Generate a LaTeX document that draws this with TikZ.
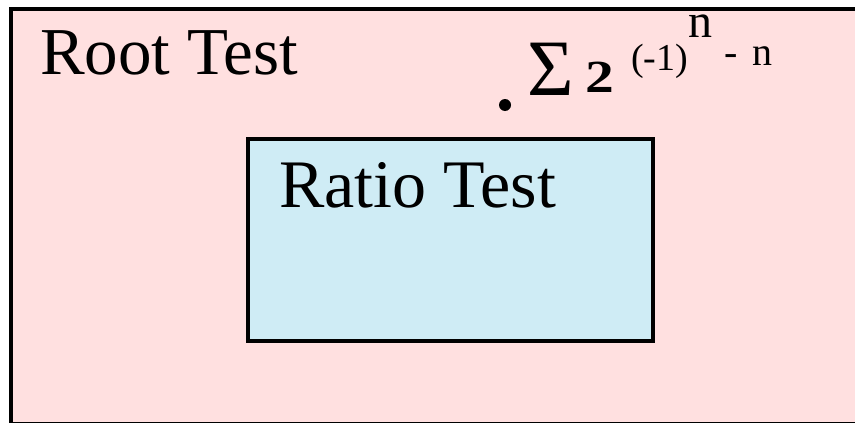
\documentclass[tikz,border=0pt]{standalone}
\usepackage{fontspec}
\setmainfont{Liberation Serif}
\definecolor{rootpink}{RGB}{255,224,224}
\definecolor{ratioblue}{RGB}{207,236,245}
\begin{document}
\begin{tikzpicture}[x=1pt,y=-1pt,
  frame/.style={draw=black,line width=4pt},
  lbl/.style={inner sep=0pt,anchor=base west}]
\useasboundingbox (0,0) rectangle (855,423);
\path[fill=white] (0,0) rectangle (855,423);
\draw[frame,fill=rootpink] (10.5,9.2) rectangle (870,423.5);
\draw[frame,fill=ratioblue] (248,139.3) rectangle (652.7,341);
\node[lbl,font=\fontsize{67}{70}\selectfont] (root) at (40,74) {Root Test};
\node[lbl,font=\fontsize{68}{70}\selectfont] (ratio) at (279,207) {Ratio Test};
\node[circle,fill=black,inner sep=0pt,minimum size=12pt] (dot) at (505,105) {};
\node[lbl,font=\fontsize{80}{80}\selectfont] (sigma) at (527,95) {Σ};
\node[lbl,font=\fontsize{46}{46}\selectfont] (two) at (585,92) {\scalebox{1.25}[1]{\textbf{2}}};
\node[lbl,font=\fontsize{38}{38}\selectfont] (base) at (631,70) {(-1)};
\node[lbl,font=\fontsize{48}{48}\selectfont] (exp) at (688,37) {n};
\node[lbl,font=\fontsize{40}{40}\selectfont] (tail) at (724,65) {-\hspace{15pt}n};
\end{tikzpicture}
\end{document}
